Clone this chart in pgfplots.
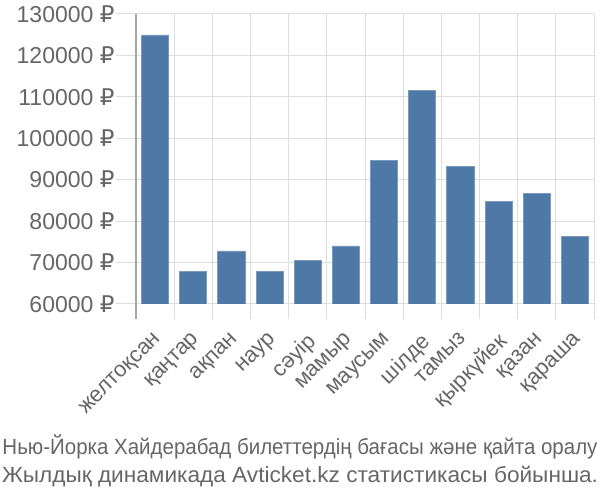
\documentclass[border=0pt]{standalone}
\usepackage{pgfplots}
\pgfplotsset{compat=1.18}
\usepackage{fontspec}
\setmainfont{Liberation Sans}
\newfontfamily\rub{DejaVu Sans}
\usepackage{graphicx}
\definecolor{barblue}{RGB}{78,121,167}
\definecolor{txtgray}{RGB}{102,102,102}
\definecolor{gridgray}{RGB}{221,221,221}
\definecolor{axgray}{RGB}{165,165,165}
\newcommand{\R}{{\rub ₽}}
\begin{document}
\begin{tikzpicture}[x=1pt,y=1pt]
\useasboundingbox (0,0) rectangle (600,500);
\begin{axis}[
  at={(136pt,196pt)}, anchor=south west,
  scale only axis, width=458pt, height=290pt,
  xmin=-0.5, xmax=11.5, ymin=60000, ymax=130000,
  scaled y ticks=false,
  axis lines*=left,
  axis line style={-},
  x axis line style={draw=gridgray, line width=1pt},
  y axis line style={draw=axgray, line width=1.5pt, shorten <=-15pt},
  xtick={0,1,2,3,4,5,6,7,8,9,10,11},
  xticklabels={желтоқсан,қаңтар,ақпан,наур,сәуір,мамыр,маусым,шілде,тамыз,қыркүйек,қазан,қараша},
  minor xtick={0.5,1.5,2.5,3.5,4.5,5.5,6.5,7.5,8.5,9.5,10.5,11.5},
  ytick={60000,70000,80000,90000,100000,110000,120000,130000},
  yticklabels={60000 \R,70000 \R,80000 \R,90000 \R,100000 \R,110000 \R,120000 \R,130000 \R},
  tick align=outside,
  major tick length=20pt,
  minor tick length=15pt,
  every major x tick/.append style={draw=none},
  every minor x tick/.append style={draw=gridgray, line width=1pt},
  every major y tick/.append style={draw=gridgray, line width=1pt},
  ymajorgrids, xminorgrids,
  major grid style={draw=gridgray, line width=1pt},
  minor grid style={draw=gridgray, line width=1pt},
  yticklabel style={font=\fontsize{23}{27}\selectfont, text=txtgray, xshift=2pt},
  xticklabel style={font=\fontsize{22}{26}\selectfont, text=txtgray, rotate=45, anchor=north east, xshift=-3pt},
]
\addplot[ybar, bar width=0.71, fill=barblue, draw=barblue!75!white, line width=0.8pt]
  coordinates {(0,124950) (1,67750) (2,72800) (3,67750) (4,70550) (5,74000)
               (6,94600) (7,111600) (8,93300) (9,84800) (10,86700) (11,76200)};
\end{axis}
\node[anchor=base, text=txtgray, inner sep=0pt] at (300,45)
  {\resizebox{595pt}{\height}{\fontsize{22}{26}\selectfont Нью-Йорка Хайдерабад билеттердің бағасы және қайта оралу}};
\node[anchor=base, text=txtgray, inner sep=0pt] at (300,17)
  {\resizebox{596pt}{\height}{\fontsize{22}{26}\selectfont Жылдық динамикада Avticket.kz статистикасы бойынша.}};
\end{tikzpicture}
\end{document}
